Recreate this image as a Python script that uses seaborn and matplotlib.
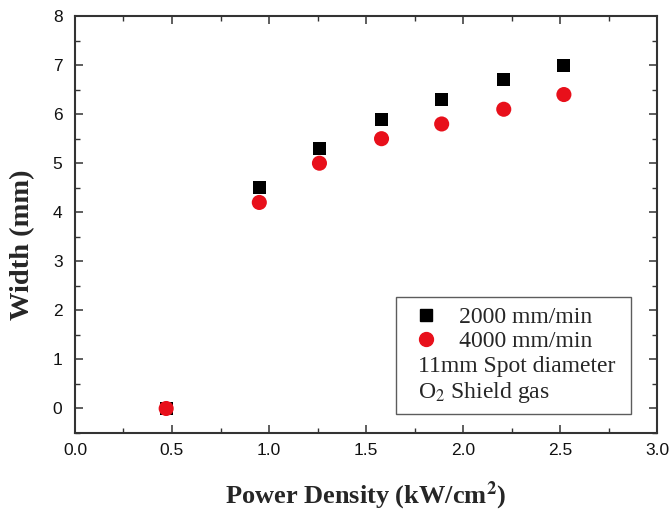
import matplotlib
matplotlib.use("Agg")
import matplotlib.pyplot as plt
import seaborn as sns
import pandas as pd
from matplotlib.lines import Line2D
from matplotlib.ticker import MultipleLocator

sns.set_theme(style="white")
plt.rcParams['font.family'] = ['Liberation Sans', 'DejaVu Sans']
plt.rcParams['mathtext.fontset'] = 'stix'

power = [0.47, 0.95, 1.26, 1.58, 1.89, 2.21, 2.52]
width_2000 = [0.0, 4.5, 5.3, 5.9, 6.3, 6.7, 7.0]
width_4000 = [0.0, 4.2, 5.0, 5.5, 5.8, 6.1, 6.4]
labels = ["2000 mm/min", "4000 mm/min"]
notes = ["11mm Spot diameter", "O$_2$ Shield gas"]

df1 = pd.DataFrame({"x": power, "y": width_2000})
df2 = pd.DataFrame({"x": power, "y": width_4000})

fig = plt.figure(figsize=(6.69, 5.11), dpi=100)
ax = fig.add_axes([0.1121, 0.1526, 0.870, 0.816])

red = "#e8101b"
sns.scatterplot(data=df1, x="x", y="y", ax=ax, marker="s", s=88, color="black",
                edgecolor="none", zorder=3)
sns.scatterplot(data=df2, x="x", y="y", ax=ax, marker="o", s=118, color=red,
                edgecolor="none", zorder=4)

ax.set_xlim(0, 3.0)
ax.set_ylim(-0.5, 8)
ax.xaxis.set_major_locator(MultipleLocator(0.5))
ax.xaxis.set_minor_locator(MultipleLocator(0.25))
ax.yaxis.set_major_locator(MultipleLocator(1))
ax.yaxis.set_minor_locator(MultipleLocator(0.5))
ax.set_xticks([0, 0.5, 1.0, 1.5, 2.0, 2.5, 3.0])
ax.set_xticklabels(["0.0", "0.5", "1.0", "1.5", "2.0", "2.5", "3.0"])
ax.tick_params(which="both", direction="in", top=True, right=True, bottom=True, left=True,
               color="#333333")
ax.tick_params(which="major", length=6, width=1.1, labelsize=12.5, labelcolor="#111111")
ax.tick_params(axis="y", which="major", pad=9)
ax.tick_params(axis="x", which="major", pad=7)
ax.tick_params(which="minor", length=3.5, width=1.0)
for sp in ax.spines.values():
    sp.set_color("#333333")
    sp.set_linewidth(1.5)

ax.set_xlabel("Power Density (kW/cm$^{\\mathbf{2}}$)", fontsize=19, fontweight="bold",
              family="Liberation Serif", labelpad=15.5)
ax.set_ylabel("Width (mm)", fontsize=20.5, fontweight="bold", family="Liberation Serif")
ax.yaxis.set_label_coords(-0.069, 0.451)

handles = [
    Line2D([], [], marker="s", color="black", linestyle="none", markersize=8.6),
    Line2D([], [], marker="o", color=red, linestyle="none", markersize=10),
    Line2D([], [], linestyle="none"),
    Line2D([], [], linestyle="none"),
]
texts = ["       " + labels[0], "       " + labels[1], notes[0] + " ", notes[1]]
leg = ax.legend(handles, texts, loc="lower right", bbox_to_anchor=(0.955, 0.0456),
                borderaxespad=0.0,
                prop={"family": "Liberation Serif", "size": 17},
                frameon=True, fancybox=False, handlelength=1.74, handletextpad=-1.21,
                borderpad=0.4, labelspacing=0.12)
leg.get_frame().set_edgecolor("#333333")
leg.get_frame().set_linewidth(1.0)

fig.savefig("out.png", dpi=100)
